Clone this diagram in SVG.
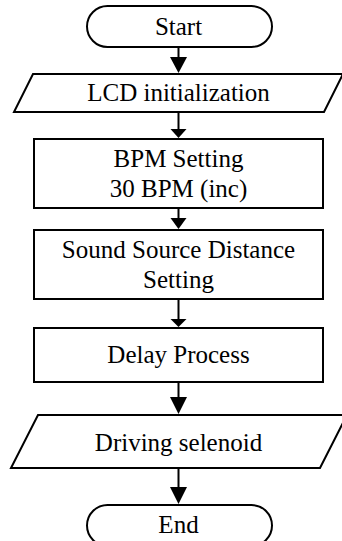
<svg xmlns="http://www.w3.org/2000/svg" width="342" height="541" viewBox="0 0 342 541">
<style>
.s{fill:#fff;stroke:#000;stroke-width:2}
.t{font-family:"Liberation Serif","Times New Roman",serif;font-size:25px;fill:#000;text-anchor:middle}
.c{stroke:#000;stroke-width:2;fill:none}
.h{fill:#000;stroke:none}
</style>
<rect width="342" height="541" fill="#fff"/>
<g id="connectors">
<line class="c" x1="178.5" y1="47" x2="178.5" y2="60"/>
<polygon class="h" points="170,57 187,57 178.5,73"/>
<line class="c" x1="178.5" y1="112" x2="178.5" y2="130"/>
<polygon class="h" points="170.5,129 186.5,129 178.5,138"/>
<line class="c" x1="178.5" y1="208" x2="178.5" y2="219"/>
<polygon class="h" points="170.5,218 186.5,218 178.5,229"/>
<line class="c" x1="178.5" y1="299" x2="178.5" y2="320"/>
<polygon class="h" points="170.5,319 186.5,319 178.5,327"/>
<line class="c" x1="178.5" y1="382" x2="178.5" y2="398"/>
<polygon class="h" points="170,397 187,397 178.5,414"/>
<line class="c" x1="178.5" y1="468" x2="178.5" y2="488"/>
<polygon class="h" points="170,487 187,487 178.5,504"/>
</g>
<g id="start">
<rect class="s" x="87" y="6" width="185" height="41" rx="20.5" ry="20.5"/>
<text class="t" x="178.5" y="35">Start</text>
</g>
<g id="lcd">
<polygon class="s" points="33,74 343,74 324,112 14,112"/>
<text class="t" x="178.5" y="101">LCD initialization</text>
</g>
<g id="bpm">
<rect class="s" x="34" y="139" width="289" height="69"/>
<text class="t" x="178.5" y="167">BPM Setting</text>
<text class="t" x="178.5" y="197">30 BPM (inc)</text>
</g>
<g id="distance">
<rect class="s" x="34" y="230" width="289" height="69"/>
<text class="t" x="178.5" y="258">Sound Source Distance</text>
<text class="t" x="178.5" y="288">Setting</text>
</g>
<g id="delay">
<rect class="s" x="34" y="328" width="289" height="54"/>
<text class="t" x="178.5" y="363">Delay Process</text>
</g>
<g id="driving">
<polygon class="s" points="38,415 347,415 320,468 11,468"/>
<text class="t" x="178.5" y="451">Driving selenoid</text>
</g>
<g id="end">
<rect class="s" x="87" y="505" width="185" height="41" rx="20.5" ry="20.5"/>
<text class="t" x="178.5" y="533">End</text>
</g>
</svg>
